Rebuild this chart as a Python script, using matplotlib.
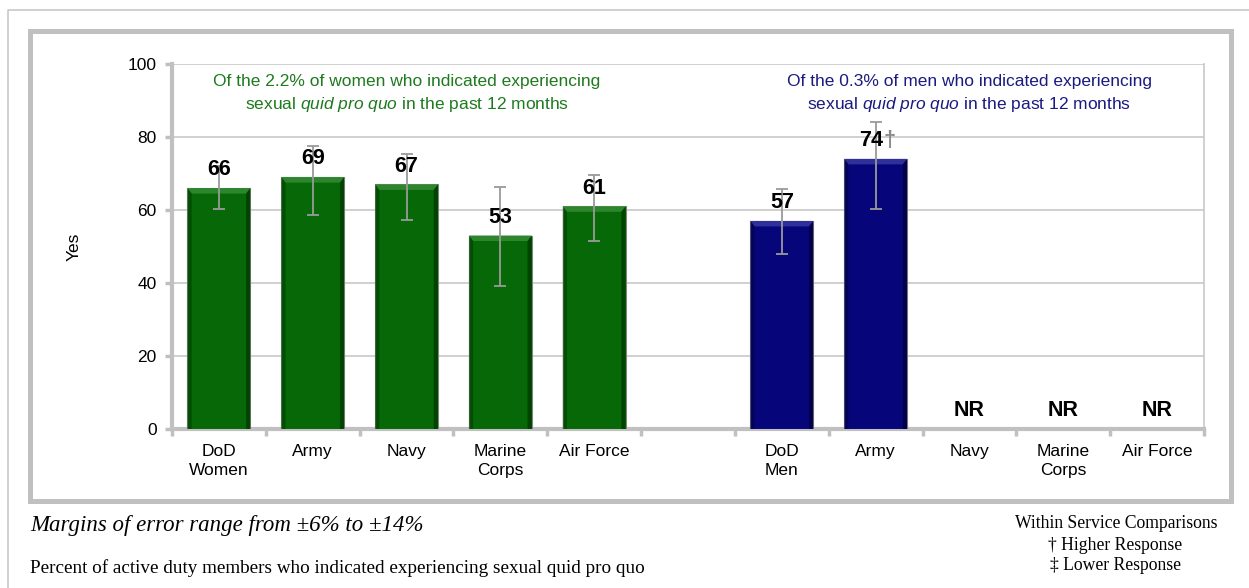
"""Sexual quid pro quo bar chart"""
import matplotlib
matplotlib.use("Agg")
import matplotlib.pyplot as plt
from matplotlib.patches import Rectangle, Polygon
from matplotlib.lines import Line2D

plt.rcParams["font.family"] = ["Liberation Sans", "DejaVu Sans"]
plt.rcParams["mathtext.fontset"] = "custom"
plt.rcParams["mathtext.rm"] = "Liberation Sans"
plt.rcParams["mathtext.it"] = "Liberation Sans:italic"

# データ
women_cats = ["DoD\nWomen", "Army", "Navy", "Marine\nCorps", "Air Force"]
men_cats = ["DoD\nMen", "Army", "Navy", "Marine\nCorps", "Air Force"]
women_vals = [66, 69, 67, 53, 61]
women_lo = [60.3, 58.7, 57.3, 39.3, 51.6]
women_hi = [72.0, 77.6, 75.3, 66.2, 69.6]
men_vals = [57, 74, None, None, None]
men_lo = [47.9, 60.4]
men_hi = [65.8, 84.0]
men_marks = ["", "\u2020", "", "", ""]

green = "#066806"
green_dark = "#023a02"
green_light = "#2d862d"
navy = "#06067a"
navy_dark = "#020240"
navy_light = "#30309a"

fig = plt.figure(figsize=(12.49, 5.88), dpi=100)
ax = fig.add_axes([172 / 1249, 1 - 429 / 588, (1204 - 172) / 1249, (429 - 64) / 588])

xw = list(range(5))
xm = [6 + i for i in range(5)]
bw = 0.67

ax.bar(xw, women_vals, width=bw, color=green, edgecolor="#7a8a7a", linewidth=0.8, zorder=3)
mx = [x for x, v in zip(xm, men_vals) if v is not None]
mv = [v for v in men_vals if v is not None]
ax.bar(mx, mv, width=bw, color=navy, edgecolor="#7a7a8a", linewidth=0.8, zorder=3)

# ベベル風の装飾（上面を明るく、側面を暗く）
h = bw / 2
s = 0.045
for x, v, lc, dc in ([(x, v, green_light, green_dark) for x, v in zip(xw, women_vals)]
                     + [(x, v, navy_light, navy_dark) for x, v in zip(mx, mv)]):
    ax.add_patch(Polygon([(x - h, v), (x + h, v), (x + h - s, v - 1.5), (x - h + s, v - 1.5)],
                         closed=True, facecolor=lc, edgecolor="none", zorder=4))
    ax.add_patch(Polygon([(x - h, 0), (x - h, v), (x - h + s, v - 1.5), (x - h + s, 0)],
                         closed=True, facecolor=dc, edgecolor="none", alpha=0.55, zorder=4))
    ax.add_patch(Polygon([(x + h, 0), (x + h, v), (x + h - s, v - 1.5), (x + h - s, 0)],
                         closed=True, facecolor=dc, edgecolor="none", alpha=0.8, zorder=4))

# エラーバー
err_kw = dict(fmt="none", ecolor="#9a9a9a", elinewidth=1.3, capsize=4, capthick=1.3, zorder=5)
ax.errorbar(xw, women_vals,
            yerr=[[v - l for v, l in zip(women_vals, women_lo)], [h_ - v for v, h_ in zip(women_vals, women_hi)]],
            **err_kw)
ax.errorbar(mx, mv,
            yerr=[[v - l for v, l in zip(mv, men_lo)], [h_ - v for v, h_ in zip(mv, men_hi)]],
            **err_kw)

# 値ラベル
lab = dict(va="center", fontsize=15.5, weight="bold", zorder=6)
for x, v in zip(xw, women_vals):
    ax.text(x, v + 5, str(v), ha="center", **lab)
for x, v, m in zip(xm, men_vals, men_marks):
    if v is None:
        ax.text(x, 5, "NR", ha="center", **lab)
    elif m:
        ax.text(x + 0.08, v + 5, str(v), ha="right", **lab)
        ax.text(x + 0.08, v + 5, m, ha="left", color="#8a8a8a", **lab)
    else:
        ax.text(x, v + 5, str(v), ha="center", **lab)

ax.set_xlim(-0.5, 10.5)
ax.set_ylim(0, 100)
ax.set_yticks([0, 20, 40, 60, 80, 100])
ax.set_xticks(xw + xm)
ax.set_xticklabels(women_cats + men_cats, fontsize=12.5, linespacing=1.3)
ax.set_xticks([i - 0.5 for i in range(12)], minor=True)
ax.tick_params(axis="x", which="major", length=0, pad=11)
ax.tick_params(axis="x", which="minor", length=5, width=2.5, color="#c0c0c0")
ax.tick_params(axis="y", labelsize=12.5, length=5, width=2.5, color="#c0c0c0", pad=6)
ax.grid(axis="y", color="#c8c8c8", linewidth=1.2, zorder=0)
ax.set_axisbelow(True)
for sp in ["left", "bottom"]:
    ax.spines[sp].set_color("#c0c0c0")
    ax.spines[sp].set_linewidth(3)
ax.spines["top"].set_visible(False)
ax.spines["right"].set_color("#c8c8c8")
ax.spines["right"].set_linewidth(1.2)
ax.set_ylabel("Yes", fontsize=12.5, labelpad=33)

# 注記
ax.text(2, 91.8, "Of the 2.2% of women who indicated experiencing\nsexual $\\it{quid\\ pro\\ quo}$ in the past 12 months",
        ha="center", va="center", fontsize=12.5, color="#1e7a1e", linespacing=1.4)
ax.text(8, 91.8, "Of the 0.3% of men who indicated experiencing\nsexual $\\it{quid\\ pro\\ quo}$ in the past 12 months",
        ha="center", va="center", fontsize=12.5, color="#1a1a80", linespacing=1.4)

# 枠線
W, H = 1249, 588
fig.patches.append(Rectangle((29.5 / W, 1 - 501 / H), (1231 - 29.5) / W, (501 - 31) / H,
                             transform=fig.transFigure, fill=False, edgecolor="#c0c0c0", linewidth=3.6))
fig.lines.append(Line2D([7.5 / W, 7.5 / W, 1.0], [0.0, 1 - 9.5 / H, 1 - 9.5 / H],
                        transform=fig.transFigure, color="#c8c8c8", linewidth=1.2))

# 下部テキスト
serif = ["Liberation Serif", "DejaVu Serif"]
fig.text(30 / W, 1 - 525 / H, "Margins of error range from \u00b16% to \u00b114%", family=serif,
         style="italic", fontsize=16.5, va="center", ha="left")
fig.text(30 / W, 1 - 568 / H, "Percent of active duty members who indicated experiencing sexual quid pro quo",
         family=serif, fontsize=13.8, va="center", ha="left")
fig.text(1116 / W, 1 - 524 / H, "Within Service Comparisons", family=serif, fontsize=12.7,
         va="center", ha="center")
fig.text(1115 / W, 1 - 546 / H, "\u2020 Higher Response", family=serif, fontsize=12.7,
         va="center", ha="center")
fig.text(1115 / W, 1 - 566 / H, "\u2021 Lower Response", family=serif, fontsize=12.7,
         va="center", ha="center")

fig.savefig("out.png", dpi=100, facecolor="white")
